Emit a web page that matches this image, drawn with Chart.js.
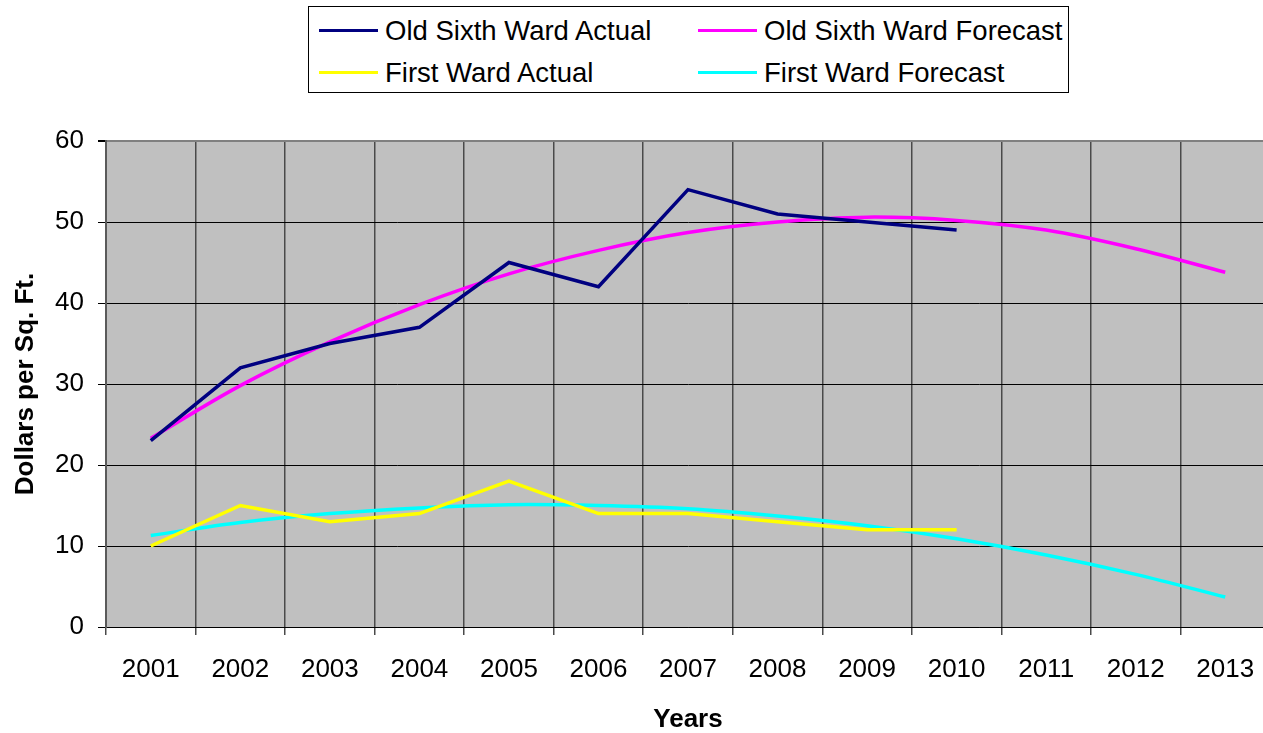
<!DOCTYPE html>
<html>
<head>
<meta charset="utf-8">
<script src="https://cdn.jsdelivr.net/npm/chart.js@4/dist/chart.umd.min.js"></script>
<style>
    html, body { margin: 0; padding: 0; background: #fff; overflow: hidden; width: 1263px; height: 733px; }
    #wrap { position: relative; width: 1263px; height: 733px; }
    canvas { position: absolute; left: 0; top: 0; }
    #legend {
        position: absolute; left: 308px; top: 6px; width: 759px; height: 85px;
        border: 1px solid #000; background: #fff;
        font-family: "Liberation Sans", Arial, sans-serif; font-size: 27.5px; color: #000;
    }
    .item { position: absolute; height: 30px; line-height: 30px; white-space: nowrap; }
    .item .swatch { position: absolute; left: 0; top: 13px; width: 59px; height: 3px; }
    .item .text { position: absolute; left: 66px; top: 0; }
</style>
</head>
<body>
<div id="wrap">
    <canvas id="chart" width="1280" height="733"></canvas>
    <div id="legend"></div>
</div>
<script>
// chart data
const years = ['2001', '2002', '2003', '2004', '2005', '2006', '2007', '2008', '2009', '2010', '2011', '2012', '2013'];
const oldSixthActual = [23, 32, 35, 37, 45, 42, 54, 51, 50, 49, null, null, null];
const oldSixthForecast = [23.3, 29.8, 35.2, 39.8, 43.6, 46.5, 48.7, 50.0, 50.6, 50.2, 49.0, 46.7, 43.8];
const firstWardActual = [10, 15, 13, 14, 18, 14, 14, 13, 12, 12, null, null, null];
const firstWardForecast = [11.3, 12.9, 14.0, 14.7, 15.1, 15.0, 14.6, 13.7, 12.5, 10.9, 8.9, 6.5, 3.7];
const yTicks = [0, 10, 20, 30, 40, 50, 60];

const fontFamily = '"Liberation Sans", Arial, sans-serif';

const plotBackground = {
    id: 'plotBackground',
    beforeDraw(chart) {
        const { ctx, chartArea } = chart;
        ctx.save();
        ctx.fillStyle = '#c0c0c0';
        ctx.fillRect(chartArea.left, chartArea.top, chartArea.right - chartArea.left, chartArea.bottom - chartArea.top);
        ctx.restore();
    }
};

function line(label, data, color, smooth) {
    return {
        label: label,
        data: data,
        borderColor: color,
        backgroundColor: color,
        borderWidth: 3.5,
        pointRadius: 0,
        fill: false,
        spanGaps: false,
        tension: smooth ? 0.35 : 0
    };
}

const chart = new Chart(document.getElementById('chart').getContext('2d'), {
    type: 'line',
    data: {
        labels: years,
        datasets: [
            line('Old Sixth Ward Actual', oldSixthActual, '#000080', false),
            line('Old Sixth Ward Forecast', oldSixthForecast, '#ff00ff', true),
            line('First Ward Actual', firstWardActual, '#ffff00', false),
            line('First Ward Forecast', firstWardForecast, '#00ffff', true)
        ]
    },
    options: {
        responsive: false,
        animation: false,
        devicePixelRatio: 1,
        layout: { padding: { top: 141, right: 10, bottom: 0, left: 0 } },
        plugins: {
            legend: { display: false },
            tooltip: { enabled: false }
        },
        scales: {
            x: {
                type: 'category',
                offset: true,
                grid: {
                    offset: true,
                    color: '#4a4a4a',
                    lineWidth: 1.5,
                    tickLength: 8,
                    drawOnChartArea: true
                },
                border: { color: '#000', width: 1 },
                ticks: {
                    color: '#000',
                    padding: 19,
                    maxRotation: 0,
                    autoSkip: false,
                    font: { family: fontFamily, size: 26 }
                },
                title: {
                    display: true,
                    text: 'Years',
                    color: '#000',
                    padding: { top: 0, bottom: -2 },
                    font: { family: fontFamily, size: 26, weight: 'bold' }
                },
                afterFit(scale) { scale.height = 106; }
            },
            y: {
                min: 0,
                max: 60,
                afterBuildTicks(scale) { scale.ticks = yTicks.map(v => ({ value: v })); },
                grid: {
                    color: c => (c.tick && c.tick.value === 60) ? '#808080' : '#000',
                    lineWidth: c => (c.tick && c.tick.value === 60) ? 2 : 1,
                    tickColor: '#000',
                    tickLength: 8
                },
                border: { color: '#5a5a5a', width: 2 },
                ticks: {
                    color: '#000',
                    padding: 14,
                    font: { family: fontFamily, size: 26 }
                },
                title: {
                    display: true,
                    text: 'Dollars per Sq. Ft.',
                    color: '#000',
                    padding: { top: 10, bottom: 0 },
                    font: { family: fontFamily, size: 26, weight: 'bold' }
                },
                afterFit(scale) { scale.width = 106; }
            }
        }
    },
    plugins: [plotBackground]
});

// legend in two columns like the original
const legend = document.getElementById('legend');
const slots = [[10, 9], [389, 9], [10, 51], [389, 51]];
chart.data.datasets.forEach((ds, i) => {
    const item = document.createElement('div');
    item.className = 'item';
    item.style.left = slots[i][0] + 'px';
    item.style.top = slots[i][1] + 'px';
    item.innerHTML = '<span class="swatch" style="background:' + ds.borderColor + '"></span><span class="text"></span>';
    item.querySelector('.text').textContent = ds.label;
    legend.appendChild(item);
});
</script>
</body>
</html>
